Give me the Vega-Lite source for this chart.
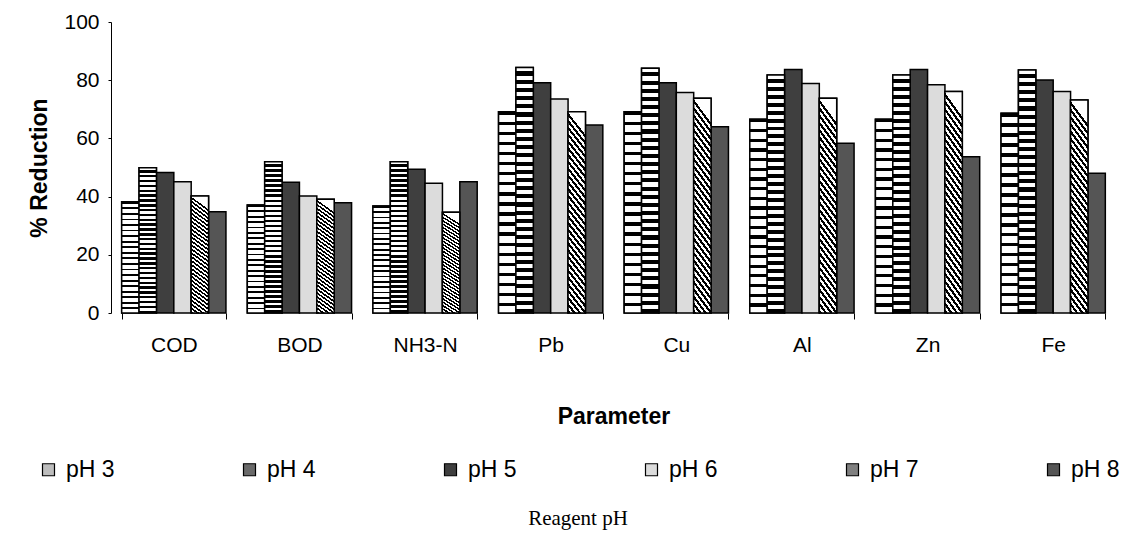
{
  "$schema": "https://vega.github.io/schema/vega-lite/v6.json",
  "width": 1005,
  "height": 291,
  "autosize": {"type": "none"},
  "padding": {"left": 111, "top": 22, "right": 14, "bottom": 222},
  "background": "white",
  "config": {
    "view": {"stroke": null},
    "font": "Liberation Sans"
  },
  "data": {
    "values": [
      {"Parameter": "COD", "pH": "pH 3", "reduction": 38.2},
      {"Parameter": "COD", "pH": "pH 4", "reduction": 49.9},
      {"Parameter": "COD", "pH": "pH 5", "reduction": 48.3},
      {"Parameter": "COD", "pH": "pH 6", "reduction": 45.1},
      {"Parameter": "COD", "pH": "pH 7", "reduction": 40.2},
      {"Parameter": "COD", "pH": "pH 8", "reduction": 34.8},
      {"Parameter": "BOD", "pH": "pH 3", "reduction": 37.1},
      {"Parameter": "BOD", "pH": "pH 4", "reduction": 52.0},
      {"Parameter": "BOD", "pH": "pH 5", "reduction": 44.9},
      {"Parameter": "BOD", "pH": "pH 6", "reduction": 40.2},
      {"Parameter": "BOD", "pH": "pH 7", "reduction": 39.1},
      {"Parameter": "BOD", "pH": "pH 8", "reduction": 37.9},
      {"Parameter": "NH3-N", "pH": "pH 3", "reduction": 36.8},
      {"Parameter": "NH3-N", "pH": "pH 4", "reduction": 52.0},
      {"Parameter": "NH3-N", "pH": "pH 5", "reduction": 49.4},
      {"Parameter": "NH3-N", "pH": "pH 6", "reduction": 44.6},
      {"Parameter": "NH3-N", "pH": "pH 7", "reduction": 34.6},
      {"Parameter": "NH3-N", "pH": "pH 8", "reduction": 45.1},
      {"Parameter": "Pb", "pH": "pH 3", "reduction": 69.2},
      {"Parameter": "Pb", "pH": "pH 4", "reduction": 84.4},
      {"Parameter": "Pb", "pH": "pH 5", "reduction": 79.1},
      {"Parameter": "Pb", "pH": "pH 6", "reduction": 73.5},
      {"Parameter": "Pb", "pH": "pH 7", "reduction": 69.2},
      {"Parameter": "Pb", "pH": "pH 8", "reduction": 64.6},
      {"Parameter": "Cu", "pH": "pH 3", "reduction": 69.2},
      {"Parameter": "Cu", "pH": "pH 4", "reduction": 84.1},
      {"Parameter": "Cu", "pH": "pH 5", "reduction": 79.1},
      {"Parameter": "Cu", "pH": "pH 6", "reduction": 75.8},
      {"Parameter": "Cu", "pH": "pH 7", "reduction": 73.8},
      {"Parameter": "Cu", "pH": "pH 8", "reduction": 64.0},
      {"Parameter": "Al", "pH": "pH 3", "reduction": 66.6},
      {"Parameter": "Al", "pH": "pH 4", "reduction": 81.8},
      {"Parameter": "Al", "pH": "pH 5", "reduction": 83.7},
      {"Parameter": "Al", "pH": "pH 6", "reduction": 78.9},
      {"Parameter": "Al", "pH": "pH 7", "reduction": 73.8},
      {"Parameter": "Al", "pH": "pH 8", "reduction": 58.3},
      {"Parameter": "Zn", "pH": "pH 3", "reduction": 66.6},
      {"Parameter": "Zn", "pH": "pH 4", "reduction": 81.8},
      {"Parameter": "Zn", "pH": "pH 5", "reduction": 83.7},
      {"Parameter": "Zn", "pH": "pH 6", "reduction": 78.4},
      {"Parameter": "Zn", "pH": "pH 7", "reduction": 76.1},
      {"Parameter": "Zn", "pH": "pH 8", "reduction": 53.7},
      {"Parameter": "Fe", "pH": "pH 3", "reduction": 68.6},
      {"Parameter": "Fe", "pH": "pH 4", "reduction": 83.5},
      {"Parameter": "Fe", "pH": "pH 5", "reduction": 80.1},
      {"Parameter": "Fe", "pH": "pH 6", "reduction": 76.1},
      {"Parameter": "Fe", "pH": "pH 7", "reduction": 73.2},
      {"Parameter": "Fe", "pH": "pH 8", "reduction": 48.0}
    ]
  },
  "encoding": {
    "x": {
      "field": "Parameter",
      "type": "nominal",
      "sort": ["COD", "BOD", "NH3-N", "Pb", "Cu", "Al", "Zn", "Fe"],
      "scale": {"paddingInner": 0.17, "paddingOuter": 0.085},
      "title": "Parameter",
      "axis": {
        "domain": false,
        "ticks": true,
        "tickBand": "extent",
        "tickSize": 6,
        "tickColor": "#000",
        "labelAngle": 0,
        "labelFont": "Liberation Sans",
        "labelFontSize": 21,
        "labelColor": "#000",
        "labelPadding": 15,
        "titleFont": "Liberation Sans",
        "titleFontSize": 23,
        "titleFontWeight": "bold",
        "titleColor": "#000",
        "titlePadding": 50
      }
    },
    "xOffset": {
      "field": "pH",
      "type": "nominal",
      "scale": {
        "domain": ["pH 3", "pH 4", "pH 5", "pH 6", "pH 7", "pH 8"],
        "paddingInner": 0,
        "paddingOuter": 0
      }
    },
    "y": {
      "field": "reduction",
      "type": "quantitative",
      "stack": null,
      "scale": {"domain": [0, 100], "nice": false},
      "title": "% Reduction",
      "axis": {
        "values": [0, 20, 40, 60, 80, 100],
        "grid": false,
        "domain": true,
        "domainColor": "#000",
        "domainWidth": 1,
        "ticks": true,
        "tickSize": 3,
        "tickColor": "#000",
        "labelFont": "Liberation Sans",
        "labelFontSize": 21,
        "labelColor": "#000",
        "labelPadding": 9,
        "titleFont": "Liberation Sans",
        "titleFontSize": 23,
        "titleFontWeight": "bold",
        "titleColor": "#000",
        "titlePadding": 12
      }
    }
  },
  "layer": [
    {
      "mark": {"type": "bar", "stroke": "#000", "strokeWidth": 1.5},
      "encoding": {
        "fill": {
          "field": "pH",
          "type": "nominal",
          "scale": {
            "domain": ["pH 3", "pH 4", "pH 5", "pH 6", "pH 7", "pH 8"],
            "range": ["#bdbdbd", "#6a6a6a", "#3f3f3f", "#dcdcdc", "#808080", "#555555"]
          },
          "legend": {
            "orient": "none",
            "legendX": -74,
            "legendY": 436,
            "direction": "horizontal",
            "columns": 6,
            "columnPadding": 123,
            "padding": 0,
            "symbolType": "square",
            "symbolSize": 144,
            "symbolStrokeColor": "#000",
            "symbolStrokeWidth": 1.2,
            "labelFont": "Liberation Sans",
            "labelFontSize": 23,
            "labelColor": "#000",
            "labelOffset": 6,
            "title": "Reagent pH",
            "titleOrient": "bottom",
            "titleAnchor": "middle",
            "titleAlign": "center",
            "titleFont": "Liberation Serif",
            "titleFontSize": 21,
            "titleFontWeight": "normal",
            "titleColor": "#000",
            "titlePadding": 26
          }
        }
      }
    },
    {
      "transform": [{"filter": "datum.pH === 'pH 3'"}],
      "mark": {
        "type": "bar",
        "stroke": "#000",
        "strokeWidth": 1.5,
        "fill": {
          "gradient": "linear", "x1": 0, "y1": 0, "x2": 0, "y2": 1,
          "stops": [
            {"offset": 0, "color": "#000"}, {"offset": 0.0167, "color": "#000"}, {"offset": 0.0167, "color": "#fff"}, {"offset": 0.05, "color": "#fff"},
            {"offset": 0.05, "color": "#000"}, {"offset": 0.0667, "color": "#000"}, {"offset": 0.0667, "color": "#fff"}, {"offset": 0.1, "color": "#fff"},
            {"offset": 0.1, "color": "#000"}, {"offset": 0.1167, "color": "#000"}, {"offset": 0.1167, "color": "#fff"}, {"offset": 0.15, "color": "#fff"},
            {"offset": 0.15, "color": "#000"}, {"offset": 0.1667, "color": "#000"}, {"offset": 0.1667, "color": "#fff"}, {"offset": 0.2, "color": "#fff"},
            {"offset": 0.2, "color": "#000"}, {"offset": 0.2167, "color": "#000"}, {"offset": 0.2167, "color": "#fff"}, {"offset": 0.25, "color": "#fff"},
            {"offset": 0.25, "color": "#000"}, {"offset": 0.2667, "color": "#000"}, {"offset": 0.2667, "color": "#fff"}, {"offset": 0.3, "color": "#fff"},
            {"offset": 0.3, "color": "#000"}, {"offset": 0.3167, "color": "#000"}, {"offset": 0.3167, "color": "#fff"}, {"offset": 0.35, "color": "#fff"},
            {"offset": 0.35, "color": "#000"}, {"offset": 0.3667, "color": "#000"}, {"offset": 0.3667, "color": "#fff"}, {"offset": 0.4, "color": "#fff"},
            {"offset": 0.4, "color": "#000"}, {"offset": 0.4167, "color": "#000"}, {"offset": 0.4167, "color": "#fff"}, {"offset": 0.45, "color": "#fff"},
            {"offset": 0.45, "color": "#000"}, {"offset": 0.4667, "color": "#000"}, {"offset": 0.4667, "color": "#fff"}, {"offset": 0.5, "color": "#fff"},
            {"offset": 0.5, "color": "#000"}, {"offset": 0.5167, "color": "#000"}, {"offset": 0.5167, "color": "#fff"}, {"offset": 0.55, "color": "#fff"},
            {"offset": 0.55, "color": "#000"}, {"offset": 0.5667, "color": "#000"}, {"offset": 0.5667, "color": "#fff"}, {"offset": 0.6, "color": "#fff"},
            {"offset": 0.6, "color": "#000"}, {"offset": 0.6167, "color": "#000"}, {"offset": 0.6167, "color": "#fff"}, {"offset": 0.65, "color": "#fff"},
            {"offset": 0.65, "color": "#000"}, {"offset": 0.6667, "color": "#000"}, {"offset": 0.6667, "color": "#fff"}, {"offset": 0.7, "color": "#fff"},
            {"offset": 0.7, "color": "#000"}, {"offset": 0.7167, "color": "#000"}, {"offset": 0.7167, "color": "#fff"}, {"offset": 0.75, "color": "#fff"},
            {"offset": 0.75, "color": "#000"}, {"offset": 0.7667, "color": "#000"}, {"offset": 0.7667, "color": "#fff"}, {"offset": 0.8, "color": "#fff"},
            {"offset": 0.8, "color": "#000"}, {"offset": 0.8167, "color": "#000"}, {"offset": 0.8167, "color": "#fff"}, {"offset": 0.85, "color": "#fff"},
            {"offset": 0.85, "color": "#000"}, {"offset": 0.8667, "color": "#000"}, {"offset": 0.8667, "color": "#fff"}, {"offset": 0.9, "color": "#fff"},
            {"offset": 0.9, "color": "#000"}, {"offset": 0.9167, "color": "#000"}, {"offset": 0.9167, "color": "#fff"}, {"offset": 0.95, "color": "#fff"},
            {"offset": 0.95, "color": "#000"}, {"offset": 0.9667, "color": "#000"}, {"offset": 0.9667, "color": "#fff"}, {"offset": 1, "color": "#fff"}
          ]
        }
      }
    },
    {
      "transform": [{"filter": "datum.pH === 'pH 4'"}],
      "mark": {
        "type": "bar",
        "stroke": "#000",
        "strokeWidth": 1.5,
        "fill": {
          "gradient": "linear", "x1": 0, "y1": 0, "x2": 0, "y2": 1,
          "stops": [
            {"offset": 0, "color": "#fff"}, {"offset": 0.0167, "color": "#fff"}, {"offset": 0.0167, "color": "#000"}, {"offset": 0.0333, "color": "#000"},
            {"offset": 0.0333, "color": "#fff"}, {"offset": 0.05, "color": "#fff"}, {"offset": 0.05, "color": "#000"}, {"offset": 0.0667, "color": "#000"},
            {"offset": 0.0667, "color": "#fff"}, {"offset": 0.0833, "color": "#fff"}, {"offset": 0.0833, "color": "#000"}, {"offset": 0.1, "color": "#000"},
            {"offset": 0.1, "color": "#fff"}, {"offset": 0.1167, "color": "#fff"}, {"offset": 0.1167, "color": "#000"}, {"offset": 0.1333, "color": "#000"},
            {"offset": 0.1333, "color": "#fff"}, {"offset": 0.15, "color": "#fff"}, {"offset": 0.15, "color": "#000"}, {"offset": 0.1667, "color": "#000"},
            {"offset": 0.1667, "color": "#fff"}, {"offset": 0.1833, "color": "#fff"}, {"offset": 0.1833, "color": "#000"}, {"offset": 0.2, "color": "#000"},
            {"offset": 0.2, "color": "#fff"}, {"offset": 0.2167, "color": "#fff"}, {"offset": 0.2167, "color": "#000"}, {"offset": 0.2333, "color": "#000"},
            {"offset": 0.2333, "color": "#fff"}, {"offset": 0.25, "color": "#fff"}, {"offset": 0.25, "color": "#000"}, {"offset": 0.2667, "color": "#000"},
            {"offset": 0.2667, "color": "#fff"}, {"offset": 0.2833, "color": "#fff"}, {"offset": 0.2833, "color": "#000"}, {"offset": 0.3, "color": "#000"},
            {"offset": 0.3, "color": "#fff"}, {"offset": 0.3167, "color": "#fff"}, {"offset": 0.3167, "color": "#000"}, {"offset": 0.3333, "color": "#000"},
            {"offset": 0.3333, "color": "#fff"}, {"offset": 0.35, "color": "#fff"}, {"offset": 0.35, "color": "#000"}, {"offset": 0.3667, "color": "#000"},
            {"offset": 0.3667, "color": "#fff"}, {"offset": 0.3833, "color": "#fff"}, {"offset": 0.3833, "color": "#000"}, {"offset": 0.4, "color": "#000"},
            {"offset": 0.4, "color": "#fff"}, {"offset": 0.4167, "color": "#fff"}, {"offset": 0.4167, "color": "#000"}, {"offset": 0.4333, "color": "#000"},
            {"offset": 0.4333, "color": "#fff"}, {"offset": 0.45, "color": "#fff"}, {"offset": 0.45, "color": "#000"}, {"offset": 0.4667, "color": "#000"},
            {"offset": 0.4667, "color": "#fff"}, {"offset": 0.4833, "color": "#fff"}, {"offset": 0.4833, "color": "#000"}, {"offset": 0.5, "color": "#000"},
            {"offset": 0.5, "color": "#fff"}, {"offset": 0.5167, "color": "#fff"}, {"offset": 0.5167, "color": "#000"}, {"offset": 0.5333, "color": "#000"},
            {"offset": 0.5333, "color": "#fff"}, {"offset": 0.55, "color": "#fff"}, {"offset": 0.55, "color": "#000"}, {"offset": 0.5667, "color": "#000"},
            {"offset": 0.5667, "color": "#fff"}, {"offset": 0.5833, "color": "#fff"}, {"offset": 0.5833, "color": "#000"}, {"offset": 0.6, "color": "#000"},
            {"offset": 0.6, "color": "#fff"}, {"offset": 0.6167, "color": "#fff"}, {"offset": 0.6167, "color": "#000"}, {"offset": 0.6333, "color": "#000"},
            {"offset": 0.6333, "color": "#fff"}, {"offset": 0.65, "color": "#fff"}, {"offset": 0.65, "color": "#000"}, {"offset": 0.6667, "color": "#000"},
            {"offset": 0.6667, "color": "#fff"}, {"offset": 0.6833, "color": "#fff"}, {"offset": 0.6833, "color": "#000"}, {"offset": 0.7, "color": "#000"},
            {"offset": 0.7, "color": "#fff"}, {"offset": 0.7167, "color": "#fff"}, {"offset": 0.7167, "color": "#000"}, {"offset": 0.7333, "color": "#000"},
            {"offset": 0.7333, "color": "#fff"}, {"offset": 0.75, "color": "#fff"}, {"offset": 0.75, "color": "#000"}, {"offset": 0.7667, "color": "#000"},
            {"offset": 0.7667, "color": "#fff"}, {"offset": 0.7833, "color": "#fff"}, {"offset": 0.7833, "color": "#000"}, {"offset": 0.8, "color": "#000"},
            {"offset": 0.8, "color": "#fff"}, {"offset": 0.8167, "color": "#fff"}, {"offset": 0.8167, "color": "#000"}, {"offset": 0.8333, "color": "#000"},
            {"offset": 0.8333, "color": "#fff"}, {"offset": 0.85, "color": "#fff"}, {"offset": 0.85, "color": "#000"}, {"offset": 0.8667, "color": "#000"},
            {"offset": 0.8667, "color": "#fff"}, {"offset": 0.8833, "color": "#fff"}, {"offset": 0.8833, "color": "#000"}, {"offset": 0.9, "color": "#000"},
            {"offset": 0.9, "color": "#fff"}, {"offset": 0.9167, "color": "#fff"}, {"offset": 0.9167, "color": "#000"}, {"offset": 0.9333, "color": "#000"},
            {"offset": 0.9333, "color": "#fff"}, {"offset": 0.95, "color": "#fff"}, {"offset": 0.95, "color": "#000"}, {"offset": 0.9667, "color": "#000"},
            {"offset": 0.9667, "color": "#fff"}, {"offset": 0.9833, "color": "#fff"}, {"offset": 0.9833, "color": "#000"}, {"offset": 1, "color": "#000"}
          ]
        }
      }
    },
    {
      "transform": [{"filter": "datum.pH === 'pH 7'"}],
      "mark": {
        "type": "bar",
        "stroke": "#000",
        "strokeWidth": 1.5,
        "fill": {
          "gradient": "linear", "x1": 0, "y1": 1, "x2": 0.11, "y2": 0,
          "stops": [
            {"offset": 0, "color": "#000"}, {"offset": 0.0167, "color": "#000"}, {"offset": 0.0167, "color": "#fff"}, {"offset": 0.0333, "color": "#fff"},
            {"offset": 0.0333, "color": "#000"}, {"offset": 0.05, "color": "#000"}, {"offset": 0.05, "color": "#fff"}, {"offset": 0.0667, "color": "#fff"},
            {"offset": 0.0667, "color": "#000"}, {"offset": 0.0833, "color": "#000"}, {"offset": 0.0833, "color": "#fff"}, {"offset": 0.1, "color": "#fff"},
            {"offset": 0.1, "color": "#000"}, {"offset": 0.1167, "color": "#000"}, {"offset": 0.1167, "color": "#fff"}, {"offset": 0.1333, "color": "#fff"},
            {"offset": 0.1333, "color": "#000"}, {"offset": 0.15, "color": "#000"}, {"offset": 0.15, "color": "#fff"}, {"offset": 0.1667, "color": "#fff"},
            {"offset": 0.1667, "color": "#000"}, {"offset": 0.1833, "color": "#000"}, {"offset": 0.1833, "color": "#fff"}, {"offset": 0.2, "color": "#fff"},
            {"offset": 0.2, "color": "#000"}, {"offset": 0.2167, "color": "#000"}, {"offset": 0.2167, "color": "#fff"}, {"offset": 0.2333, "color": "#fff"},
            {"offset": 0.2333, "color": "#000"}, {"offset": 0.25, "color": "#000"}, {"offset": 0.25, "color": "#fff"}, {"offset": 0.2667, "color": "#fff"},
            {"offset": 0.2667, "color": "#000"}, {"offset": 0.2833, "color": "#000"}, {"offset": 0.2833, "color": "#fff"}, {"offset": 0.3, "color": "#fff"},
            {"offset": 0.3, "color": "#000"}, {"offset": 0.3167, "color": "#000"}, {"offset": 0.3167, "color": "#fff"}, {"offset": 0.3333, "color": "#fff"},
            {"offset": 0.3333, "color": "#000"}, {"offset": 0.35, "color": "#000"}, {"offset": 0.35, "color": "#fff"}, {"offset": 0.3667, "color": "#fff"},
            {"offset": 0.3667, "color": "#000"}, {"offset": 0.3833, "color": "#000"}, {"offset": 0.3833, "color": "#fff"}, {"offset": 0.4, "color": "#fff"},
            {"offset": 0.4, "color": "#000"}, {"offset": 0.4167, "color": "#000"}, {"offset": 0.4167, "color": "#fff"}, {"offset": 0.4333, "color": "#fff"},
            {"offset": 0.4333, "color": "#000"}, {"offset": 0.45, "color": "#000"}, {"offset": 0.45, "color": "#fff"}, {"offset": 0.4667, "color": "#fff"},
            {"offset": 0.4667, "color": "#000"}, {"offset": 0.4833, "color": "#000"}, {"offset": 0.4833, "color": "#fff"}, {"offset": 0.5, "color": "#fff"},
            {"offset": 0.5, "color": "#000"}, {"offset": 0.5167, "color": "#000"}, {"offset": 0.5167, "color": "#fff"}, {"offset": 0.5333, "color": "#fff"},
            {"offset": 0.5333, "color": "#000"}, {"offset": 0.55, "color": "#000"}, {"offset": 0.55, "color": "#fff"}, {"offset": 0.5667, "color": "#fff"},
            {"offset": 0.5667, "color": "#000"}, {"offset": 0.5833, "color": "#000"}, {"offset": 0.5833, "color": "#fff"}, {"offset": 0.6, "color": "#fff"},
            {"offset": 0.6, "color": "#000"}, {"offset": 0.6167, "color": "#000"}, {"offset": 0.6167, "color": "#fff"}, {"offset": 0.6333, "color": "#fff"},
            {"offset": 0.6333, "color": "#000"}, {"offset": 0.65, "color": "#000"}, {"offset": 0.65, "color": "#fff"}, {"offset": 0.6667, "color": "#fff"},
            {"offset": 0.6667, "color": "#000"}, {"offset": 0.6833, "color": "#000"}, {"offset": 0.6833, "color": "#fff"}, {"offset": 0.7, "color": "#fff"},
            {"offset": 0.7, "color": "#000"}, {"offset": 0.7167, "color": "#000"}, {"offset": 0.7167, "color": "#fff"}, {"offset": 0.7333, "color": "#fff"},
            {"offset": 0.7333, "color": "#000"}, {"offset": 0.75, "color": "#000"}, {"offset": 0.75, "color": "#fff"}, {"offset": 0.7667, "color": "#fff"},
            {"offset": 0.7667, "color": "#000"}, {"offset": 0.7833, "color": "#000"}, {"offset": 0.7833, "color": "#fff"}, {"offset": 0.8, "color": "#fff"},
            {"offset": 0.8, "color": "#000"}, {"offset": 0.8167, "color": "#000"}, {"offset": 0.8167, "color": "#fff"}, {"offset": 0.8333, "color": "#fff"},
            {"offset": 0.8333, "color": "#000"}, {"offset": 0.85, "color": "#000"}, {"offset": 0.85, "color": "#fff"}, {"offset": 0.8667, "color": "#fff"},
            {"offset": 0.8667, "color": "#000"}, {"offset": 0.8833, "color": "#000"}, {"offset": 0.8833, "color": "#fff"}, {"offset": 0.9, "color": "#fff"},
            {"offset": 0.9, "color": "#000"}, {"offset": 0.9167, "color": "#000"}, {"offset": 0.9167, "color": "#fff"}, {"offset": 0.9333, "color": "#fff"},
            {"offset": 0.9333, "color": "#000"}, {"offset": 0.95, "color": "#000"}, {"offset": 0.95, "color": "#fff"}, {"offset": 0.9667, "color": "#fff"},
            {"offset": 0.9667, "color": "#000"}, {"offset": 0.9833, "color": "#000"}, {"offset": 0.9833, "color": "#fff"}, {"offset": 1, "color": "#fff"}
          ]
        }
      }
    }
  ]
}
